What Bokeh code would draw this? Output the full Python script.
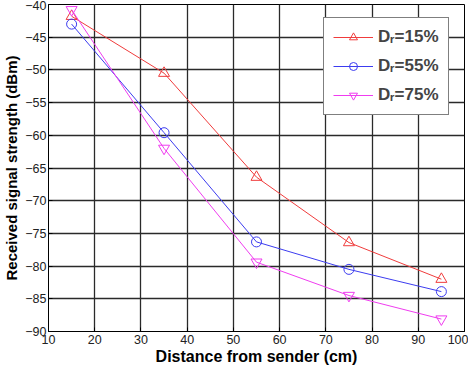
from bokeh.plotting import figure
from bokeh.models import Legend, LegendItem, SingleIntervalTicker, Range1d
from bokeh.embed import file_html
from bokeh.resources import INLINE

distance = [15, 35, 55, 75, 95]
dr15 = [-41.8, -50.5, -66.4, -76.4, -82.0]
dr55 = [-43.0, -59.6, -76.3, -80.5, -83.9]
dr75 = [-40.8, -62.0, -79.4, -84.5, -88.1]
labels = ["D\u1d63=15%", "D\u1d63=55%", "D\u1d63=75%"]

FONT = "Liberation Sans"
FW, FH = 416, 327

p = figure(frame_width=FW, frame_height=FH, output_backend="svg", toolbar_location=None,
           x_range=Range1d(10, 100), y_range=Range1d(-90, -40),
           min_border_left=4, min_border_right=4, min_border_top=4, min_border_bottom=1)
p.background_fill_color = "white"
p.outline_line_color = "black"
p.outline_line_width = 1

p.xaxis.ticker = SingleIntervalTicker(interval=10)
p.yaxis.ticker = SingleIntervalTicker(interval=5)
for ax in (p.xaxis[0], p.yaxis[0]):
    ax.major_tick_in = 4
    ax.major_tick_out = 0
    ax.minor_tick_in = 0
    ax.minor_tick_out = 0
    ax.axis_line_color = "black"
    ax.major_tick_line_color = "black"
    ax.major_label_text_font = FONT
    ax.major_label_text_font_size = "12.5px"
    ax.major_label_text_color = "#222222"
    ax.axis_label_text_font = FONT
    ax.axis_label_text_font_style = "bold"
    ax.axis_label_text_color = "black"
p.xaxis.axis_label = "Distance from sender (cm)"
p.yaxis.axis_label = "Received signal strength (dBm)"
p.xaxis.axis_label_text_font_size = "16px"
p.yaxis.axis_label_text_font_size = "15px"
p.xaxis.major_label_standoff = 3
p.yaxis.major_label_standoff = 2
p.xaxis.axis_label_standoff = 1
p.yaxis.axis_label_standoff = 2

p.xgrid.grid_line_color = "#2a2a2a"
p.ygrid.grid_line_color = "#2a2a2a"
p.xgrid.grid_line_width = 1.3
p.ygrid.grid_line_width = 1.3

c1, c2, c3 = "#f03c3c", "#3c3cf0", "#f03cf0"
l1 = p.line(distance, dr15, color=c1, line_width=1)
m1 = p.scatter(distance, dr15, marker="triangle", size=11, line_color=c1, fill_color=None)
l2 = p.line(distance, dr55, color=c2, line_width=1)
m2 = p.scatter(distance, dr55, marker="circle", size=10, line_color=c2, fill_color=None)
l3 = p.line(distance, dr75, color=c3, line_width=1)
m3 = p.scatter(distance, dr75, marker="inverted_triangle", size=11, line_color=c3, fill_color=None)

legend = Legend(items=[LegendItem(label=labels[0], renderers=[l1, m1]),
                       LegendItem(label=labels[1], renderers=[l2, m2]),
                       LegendItem(label=labels[2], renderers=[l3, m3])],
                location=(FW - 20 - 121, FH - 17 - 94))
legend.label_text_font = FONT
legend.label_text_font_style = "bold"
legend.label_text_font_size = "17px"
legend.glyph_width = 40
legend.spacing = 9
legend.padding = 9
legend.border_line_color = "black"
legend.border_line_width = 1
legend.background_fill_alpha = 1
p.add_layout(legend)

open("out.html", "w").write(file_html(p, INLINE))
